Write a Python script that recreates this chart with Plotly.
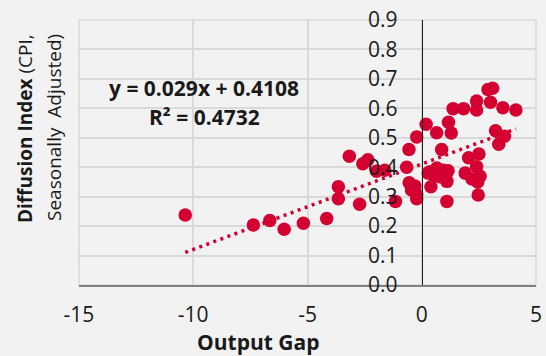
import plotly.graph_objects as go

# Data
output_gap = [-10.35, -7.37, -6.65, -6.02, -5.18, -4.16, -3.65, -3.65, -3.17, -2.72,
              -2.58, -2.36, -1.98, -1.62, -1.15, -0.66, -0.56, -0.55, -0.45, -0.30,
              -0.22, -0.22, -0.22, 0.19, 0.28, 0.36, 0.40, 0.55, 0.65, 0.66,
              0.80, 0.87, 0.95, 1.05, 1.10, 1.15, 1.10, 1.17, 1.29, 1.37,
              1.83, 1.90, 2.05, 2.20, 2.40, 2.40, 2.40, 2.45, 2.47, 2.50,
              2.55, 2.90, 3.10, 3.01, 3.23, 3.37, 3.55, 3.62, 4.12]
diffusion = [0.238, 0.204, 0.219, 0.189, 0.210, 0.226, 0.334, 0.293, 0.437, 0.274,
             0.412, 0.425, 0.386, 0.390, 0.284, 0.400, 0.460, 0.347, 0.323, 0.336,
             0.503, 0.307, 0.293, 0.546, 0.380, 0.385, 0.334, 0.370, 0.517, 0.397,
             0.368, 0.460, 0.390, 0.370, 0.352, 0.388, 0.284, 0.553, 0.516, 0.599,
             0.599, 0.380, 0.432, 0.360, 0.625, 0.594, 0.402, 0.350, 0.306, 0.445,
             0.369, 0.664, 0.668, 0.621, 0.524, 0.478, 0.602, 0.505, 0.594]
slope = 0.029
intercept = 0.4108
x_ticks = [-15, -10, -5, 0, 5]
y_ticks = [0.0, 0.1, 0.2, 0.3, 0.4, 0.5, 0.6, 0.7, 0.8, 0.9]

RED = "#d50032"
FONT = "Open Sans"

trend_x = [min(output_gap), max(output_gap)]
trend_y = [slope * v + intercept for v in trend_x]

fig = go.Figure()
fig.add_trace(go.Scatter(x=output_gap, y=diffusion, mode="markers",
                         marker=dict(size=13.5, color=RED, line=dict(width=0)),
                         showlegend=False, hoverinfo="skip"))
fig.add_trace(go.Scatter(x=trend_x, y=trend_y, mode="lines",
                         line=dict(color=RED, width=3.5, dash="3px,4.5px"),
                         showlegend=False, hoverinfo="skip"))

fig.update_layout(
    width=546, height=356,
    margin=dict(l=79, r=10, t=20, b=71, pad=0),
    paper_bgcolor="#f2f2f2", plot_bgcolor="#f2f2f2",
    font=dict(family=FONT, size=21, color="#1a1a1a"),
    xaxis=dict(range=[-15, 5], tickvals=x_ticks, ticktext=[str(v) for v in x_ticks],
               showgrid=True, gridcolor="#d9d9d9", gridwidth=1.5,
               zeroline=False, showline=True, linecolor="#808080", linewidth=2,
               ticks="", ticklabelstandoff=10, fixedrange=True, automargin=False),
    yaxis=dict(range=[0, 0.9], tickvals=y_ticks, tickformat=".1f",
               showgrid=True, gridcolor="#d9d9d9", gridwidth=1.5,
               zeroline=False, showline=True, linecolor="#1a1a1a", linewidth=1,
               anchor="free", position=0.75, ticks="", ticklabelstandoff=20,
               fixedrange=True, automargin=False),
    shapes=[dict(type="rect", xref="paper", yref="paper", x0=0, x1=1, y0=0, y1=1,
                 line=dict(color="#d9d9d9", width=1.5), layer="below")],
)

W = 457.0
H = 265.0
def px_x(p):
    return (p - 79) / W
def px_y(p):
    return (285 - p) / H

annotations = [
    dict(text="<b>y = 0.029x + 0.4108</b>", x=px_x(204), y=px_y(88), font=dict(size=21)),
    dict(text="<b>R² = 0.4732</b>", x=px_x(204), y=px_y(117), font=dict(size=21)),
    dict(text="<b>Output Gap</b>", x=px_x(258), y=px_y(342), font=dict(size=21)),
    dict(text="<b>Diffusion Index</b> (CPI,", x=px_x(25), y=px_y(129), textangle=-90,
         font=dict(size=19)),
    dict(text="Seasonally\u00a0 Adjusted)", x=px_x(54), y=px_y(128), textangle=-90,
         font=dict(size=19)),
]
for a in annotations:
    fig.add_annotation(xref="paper", yref="paper", showarrow=False,
                       xanchor="center", yanchor="middle", **a)

fig.write_html(
    "out.html",
    config={"displayModeBar": False},
    post_script="document.body.style.margin='0';document.body.style.background='#f2f2f2';",
)
